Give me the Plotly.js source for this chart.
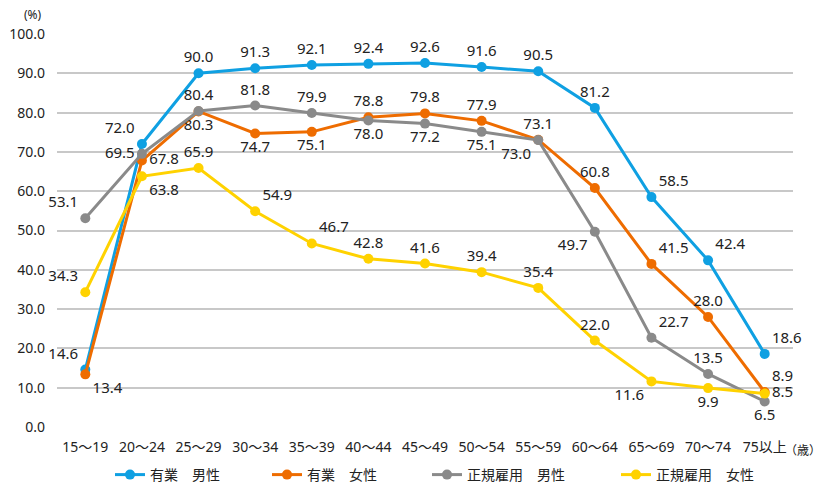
<!DOCTYPE html>
<html><head><meta charset="utf-8">
<script src="https://cdn.plot.ly/plotly-3.0.1.min.js"></script>
<style>body{margin:0;background:#fff}#c{width:823px;height:488px}</style>
</head><body><div id="c"></div>
<script>
const categories = ["15～19","20～24","25～29","30～34","35～39","40～44","45～49","50～54","55～59","60～64","65～69","70～74","75以上"];
const seriesNames = ["有業　男性","有業　女性","正規雇用　男性","正規雇用　女性"];
const yugyoMale = [14.6,72.0,90.0,91.3,92.1,92.4,92.6,91.6,90.5,81.2,58.5,42.4,18.6];
const yugyoFemale = [13.4,67.8,80.3,74.7,75.1,78.8,79.8,77.9,73.1,60.8,41.5,28.0,8.9];
const seikiMale = [53.1,69.5,80.4,81.8,79.9,78.0,77.2,75.1,73.0,49.7,22.7,13.5,6.5];
const seikiFemale = [34.3,63.8,65.9,54.9,46.7,42.8,41.6,39.4,35.4,22.0,11.6,9.9,8.5];
const yTicks = [0,10,20,30,40,50,60,70,80,90,100];

const colors = ["#0fa0e2","#ee6c00","#8a8a8a","#ffd200"];
const TC="top center",TL="top left",TR="top right",BC="bottom center",BL="bottom left",BR="bottom right",MR="middle right",ML="middle left";
const positions = [
  [TL,TL,TC,TC,TC,TC,TC,TC,TC,TC,TR,TR,TR],
  [BR,MR,BC,BC,BC,TC,TC,TC,TC,TC,TR,TC,TR],
  [TL,ML,TC,TC,TC,BC,BC,BC,BL,BL,TR,TC,BC],
  [TL,BR,TC,TR,TR,TC,TC,TC,TC,TC,BL,BC,MR]
];
const legendIds = ["legend","legend2","legend3","legend4"];
const data = [yugyoMale,yugyoFemale,seikiMale,seikiFemale].map((v,i)=>({
  type:"scatter", mode:"lines+markers+text", name:seriesNames[i], legend:legendIds[i],
  x:categories, y:v, text:v.map(d=>d.toFixed(1)), textposition:positions[i],
  textfont:{size:15,color:"#222"},
  line:{color:colors[i],width:3}, marker:{color:colors[i],size:10},
  cliponaxis:false
}));
const font = "'Noto Sans', 'Noto Sans CJK JP', sans-serif";
const L = 57, T = 34, W = 736, H = 393;
const legX = [110, 267, 427, 616];
function leg(px){ return {orientation:"h",x:(px-L)/W,xanchor:"left",y:(T+H-475)/H,yanchor:"middle",font:{size:14,family:"'Noto Sans CJK JP', sans-serif"},bgcolor:"rgba(0,0,0,0)"}; }
const layout = {
  width:823,height:488,
  margin:{l:L,r:823-L-W,t:T,b:488-T-H,autoexpand:false},
  paper_bgcolor:"#fff",plot_bgcolor:"#fff",
  font:{family:font,size:14,color:"#222"},
  showlegend:true,
  legend:leg(legX[0]), legend2:leg(legX[1]), legend3:leg(legX[2]), legend4:leg(legX[3]),
  xaxis:{type:"category",range:[-0.5,12.5],automargin:false,showgrid:false,showline:false,zeroline:false,ticks:"",ticklabelstandoff:10,tickfont:{size:14}},
  yaxis:{range:[0,100],automargin:false,tickvals:yTicks,ticktext:yTicks.map(d=>d.toFixed(1)),showgrid:true,gridcolor:"#c8c8c8",gridwidth:2,
    zeroline:false,showline:false,ticks:"",ticklabelstandoff:11,tickfont:{size:14}},
  annotations:[
    {text:"(%)",xref:"paper",yref:"paper",x:(33-L)/W,y:(T+H-15)/H,xanchor:"center",yanchor:"middle",showarrow:false,font:{size:12}},
    {text:"（歳）",xref:"paper",yref:"paper",x:(823-L)/W,y:(T+H-449)/H,xanchor:"right",yanchor:"middle",showarrow:false,font:{size:12,family:"'Noto Sans CJK JP', sans-serif"}}
  ]
};
Plotly.newPlot("c",data,layout,{displayModeBar:false});
</script></body></html>
